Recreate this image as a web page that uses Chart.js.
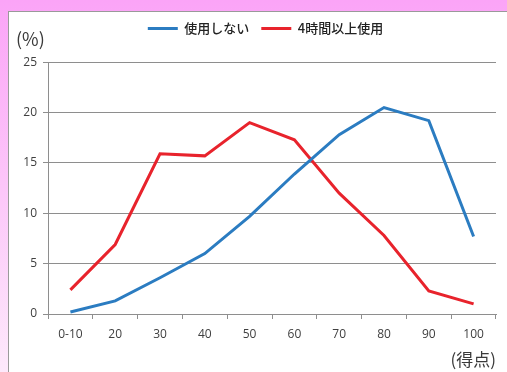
<!DOCTYPE html>
<html>
<head>
<meta charset="utf-8">
<script src="https://cdn.jsdelivr.net/npm/chart.js@4/dist/chart.umd.min.js"></script>
<style>
  html, body { margin: 0; padding: 0; width: 507px; height: 372px; overflow: hidden; }
  body { background: linear-gradient(to bottom, #fba4f7 0%, #fcc6f9 50%, #fde9fb 100%); position: relative; }
  #panel { position: absolute; left: 8px; top: 11px; width: 520px; height: 400px; background: #fff; border-left: 1px solid #9a9a9a; border-top: 1px solid #9a9a9a; }
  #wrap { position: absolute; left: 0; top: 0; width: 507px; height: 372px; }
</style>
</head>
<body>
<div id="panel"></div>
<div id="wrap"><canvas id="c" width="507" height="372"></canvas></div>
<script>
const categories = ['0-10', '20', '30', '40', '50', '60', '70', '80', '90', '100'];
const seriesNames = ['使用しない', '4時間以上使用'];
const noUse = [0.2, 1.3, 3.6, 6.0, 9.7, 13.9, 17.8, 20.5, 19.2, 7.7];
const over4h = [2.4, 6.9, 15.9, 15.7, 19.0, 17.3, 12.0, 7.8, 2.3, 1.0];
const yTicks = [0, 5, 10, 15, 20, 25];
const yUnit = '(%)';
const xUnit = '(得点)';

const blue = '#2b7cc1';
const red = '#e8232c';
const gridColor = '#8e8e8e';
const tickFont = { family: '"Open Sans", "Liberation Sans", sans-serif', size: 12 };

const unitPlugin = {
  id: 'unitLabel',
  afterLayout(chart) {
    // nudge the legend block a little to the right, as in the reference
    if (chart.legend) { chart.legend.left += 7; chart.legend.right += 7; }
  },
  afterDraw(chart) {
    const ctx = chart.ctx;
    const y = chart.scales.y;
    ctx.save();
    ctx.font = '18px "Noto Sans CJK JP", "Open Sans", sans-serif';
    ctx.fillStyle = '#3a3a3a';
    ctx.textAlign = 'left';
    ctx.textBaseline = 'middle';
    ctx.fillText(yUnit, 16, y.getPixelForValue(yTicks[yTicks.length - 1]) - 23);
    ctx.restore();
  }
};

new Chart(document.getElementById('c'), {
  type: 'line',
  data: {
    labels: categories,
    datasets: [
      { label: seriesNames[0], data: noUse, borderColor: blue, backgroundColor: blue, borderWidth: 3, pointRadius: 0, tension: 0 },
      { label: seriesNames[1], data: over4h, borderColor: red, backgroundColor: red, borderWidth: 3, pointRadius: 0, tension: 0 }
    ]
  },
  options: {
    responsive: false,
    animation: false,
    devicePixelRatio: 1,
    layout: { padding: { left: 21, right: 11, top: 10, bottom: 0 } },
    plugins: {
      legend: {
        display: true,
        position: 'top',
        labels: {
          boxWidth: 30,
          boxHeight: 3,
          padding: 12,
          color: '#222',
          font: { family: '"Noto Sans CJK JP", sans-serif', size: 13, weight: '500' },
          generateLabels(chart) {
            const items = Chart.defaults.plugins.legend.labels.generateLabels(chart);
            items.forEach(it => { it.lineWidth = 0; });
            return items;
          }
        }
      },
      title: {
        display: true,
        text: '',
        weight: 500,
        font: { size: 1 },
        padding: { top: 16, bottom: 0 }
      },
      tooltip: { enabled: false }
    },
    scales: {
      x: {
        type: 'category',
        offset: true,
        grid: { display: true, drawOnChartArea: false, drawTicks: true, tickLength: 5, color: gridColor, offset: true },
        border: { display: true, color: gridColor, width: 1 },
        ticks: { color: '#404040', font: tickFont, padding: 8, maxRotation: 0, autoSkip: false },
        title: { display: true, text: xUnit, align: 'end', color: '#3a3a3a', font: { family: '"Noto Sans CJK JP", sans-serif', size: 17 }, padding: { top: 2, bottom: 2 } },
        afterFit(s) { s.height = 58; }
      },
      y: {
        min: 0,
        max: 25,
        afterBuildTicks(s) { s.ticks = yTicks.map(v => ({ value: v })); },
        grid: { color: gridColor, lineWidth: 1, drawTicks: true, tickLength: 5 },
        border: { display: true, color: gridColor, width: 1 },
        ticks: { color: '#404040', font: tickFont, padding: 6 },
        afterFit(s) { s.width = 27; }
      }
    }
  },
  plugins: [unitPlugin]
});
</script>
</body>
</html>
